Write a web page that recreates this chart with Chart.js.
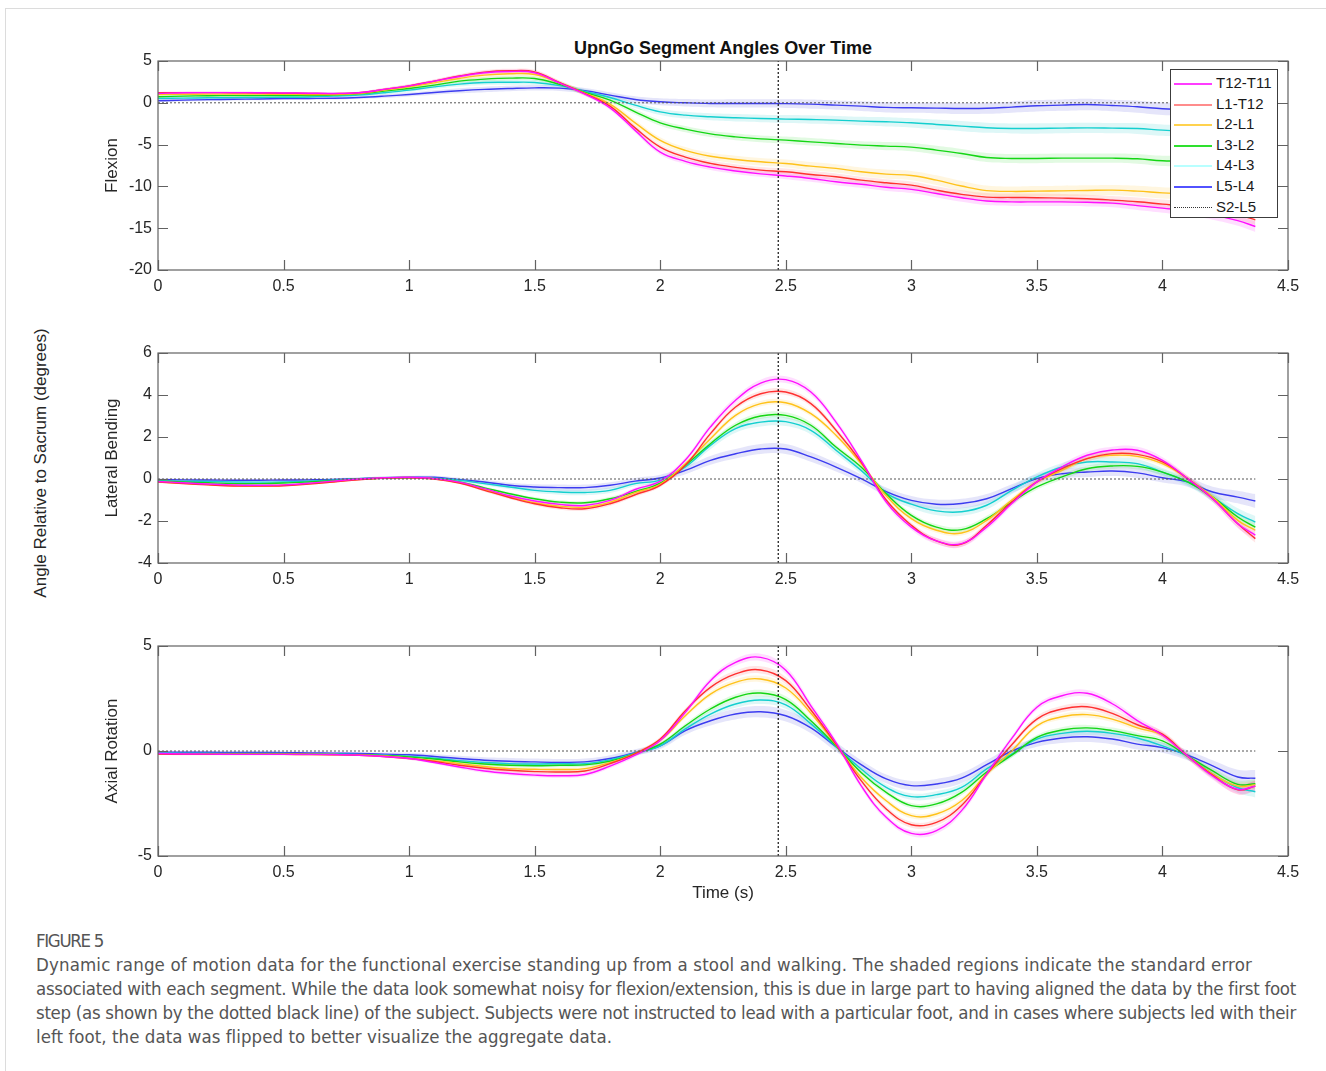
<!DOCTYPE html>
<html>
<head>
<meta charset="utf-8">
<title>UpnGo Segment Angles Over Time</title>
<script src="https://cdn.jsdelivr.net/npm/chart.js@4.4.1/dist/chart.umd.min.js"></script>
<style>
  body { margin: 0; background: #fff; font-family: "Liberation Sans", Arial, sans-serif; }
  #page { position: relative; width: 1326px; height: 1071px; overflow: hidden; background: #fff; }
  .frame { position: absolute; left: 5px; top: 8px; width: 1330px; height: 1070px;
           border-left: 1px solid #dcdcdc; border-top: 1px solid #dcdcdc; }
  canvas { position: absolute; left: 0; }
  #title { position: absolute; left: 423px; width: 600px; top: 37px; line-height: 22px;
           text-align: center; font-weight: bold; font-size: 18px; color: #111; }
  #ylab { position: absolute; left: -159px; top: 453px; width: 400px; height: 20px; line-height: 20px;
          text-align: center; font-size: 17px; color: #262626; transform: rotate(-90deg); }
  #legend { position: absolute; left: 1170px; top: 69px; width: 106px; height: 144px; padding-top: 3px;
            background: #fff; border: 1px solid #3c3c3c; }
  #legend .row { position: relative; height: 20.6px; line-height: 20.6px; font-size: 15px; color: #1a1a1a; }
  #legend .sw { position: absolute; left: 3px; top: 10px; width: 38px; height: 2px; }
  #legend .dot { position: absolute; left: 3px; top: 10px; width: 38px; height: 0; border-top: 1px dotted #333; }
  #legend .txt { position: absolute; left: 45px; top: 0; }
  #caption { position: absolute; left: 36px; top: 929px; color: #555;
             font-family: "Liberation Sans Narrow", "DejaVu Sans", sans-serif; font-stretch: condensed; font-size: 18.5px; }
  #caption .ln { display: block; height: 24px; line-height: 24px; }
  #caption .ln span { display: inline-block; white-space: nowrap; }
</style>
</head>
<body>
<div id="page">
  <div class="frame"></div>
  <div id="title">UpnGo Segment Angles Over Time</div>
  <div id="ylab">Angle Relative to Sacrum (degrees)</div>
  <canvas id="flexion" width="1326" height="255" style="top:45px"></canvas>
  <canvas id="lateral" width="1326" height="256" style="top:337px"></canvas>
  <canvas id="axial" width="1326" height="274" style="top:630px"></canvas>
  <div id="legend"></div>
  <div id="caption">
    <div class="ln"><span data-w="67">FIGURE 5</span></div>
    <div class="ln"><span data-w="1216">Dynamic range of motion data for the functional exercise standing up from a stool and walking. The shaded regions indicate the standard error</span></div>
    <div class="ln"><span data-w="1260">associated with each segment. While the data look somewhat noisy for flexion/extension, this is due in large part to having aligned the data by the first foot</span></div>
    <div class="ln"><span data-w="1260">step (as shown by the dotted black line) of the subject. Subjects were not instructed to lead with a particular foot, and in cases where subjects led with their</span></div>
    <div class="ln"><span data-w="576">left foot, the data was flipped to better visualize the aggregate data.</span></div>
  </div>
</div>
<script>
'use strict';
/* global Chart */

// ---- data ----
const TIME = [0, 0.1, 0.2, 0.3, 0.4, 0.5, 0.6, 0.7, 0.8, 0.9,
  1.0, 1.1, 1.2, 1.3, 1.4, 1.5, 1.6, 1.7, 1.8, 1.9,
  2.0, 2.1, 2.2, 2.3, 2.4, 2.5, 2.6, 2.7, 2.8, 2.9,
  3.0, 3.1, 3.2, 3.3, 3.4, 3.5, 3.6, 3.7, 3.8, 3.9,
  4.0, 4.1, 4.2, 4.3, 4.37];

const SEGMENTS = ['T12-T11', 'L1-T12', 'L2-L1', 'L3-L2', 'L4-L3', 'L5-L4'];
const REFERENCE = 'S2-L5';
const FIRST_STEP = 2.47; // s, dotted vertical line

const X_TICKS = [0, 0.5, 1, 1.5, 2, 2.5, 3, 3.5, 4, 4.5];
const FLEX_TICKS = [-20, -15, -10, -5, 0, 5];
const LAT_TICKS = [-4, -2, 0, 2, 4, 6];
const AX_TICKS = [-5, 0, 5];

// Flexion
const FLEX_T12_T11 = [1.12, 1.2, 1.22, 1.22, 1.2, 1.18, 1.15, 1.12, 1.2, 1.6,
  2.03, 2.59, 3.15, 3.6, 3.75, 3.6, 2.35, 1.05, -0.6, -3.3,
  -5.9, -7.0, -7.7, -8.15, -8.5, -8.75, -9.05, -9.45, -9.75, -10.1,
  -10.35, -10.85, -11.35, -11.75, -11.85, -11.85, -11.85, -11.9, -12.0, -12.3,
  -12.6, -12.9, -13.4, -14.1, -14.8];
const FLEX_L1_T12 = [1.2, 1.22, 1.22, 1.2, 1.18, 1.15, 1.12, 1.1, 1.2, 1.6,
  2.03, 2.6, 3.2, 3.67, 3.83, 3.7, 2.4, 1.1, -0.4, -3.0,
  -5.3, -6.5, -7.25, -7.72, -8.05, -8.25, -8.57, -8.85, -9.25, -9.57,
  -9.85, -10.45, -10.95, -11.28, -11.32, -11.35, -11.4, -11.48, -11.64, -11.84,
  -12.12, -12.4, -12.8, -13.4, -14.0];
const FLEX_L2_L1 = [1.0, 1.02, 1.04, 1.04, 1.04, 1.02, 1.0, 1.0, 1.1, 1.52,
  1.91, 2.39, 2.91, 3.31, 3.47, 3.39, 2.35, 1.15, -0.16, -2.4,
  -4.5, -5.7, -6.4, -6.78, -7.06, -7.26, -7.58, -7.85, -8.25, -8.53,
  -8.7, -9.25, -9.95, -10.5, -10.6, -10.57, -10.53, -10.49, -10.45, -10.57,
  -10.77, -10.9, -11.1, -11.3, -11.5];
const FLEX_L3_L2 = [0.72, 0.8, 0.84, 0.86, 0.86, 0.86, 0.88, 0.92, 1.08, 1.4,
  1.71, 2.11, 2.59, 2.83, 2.95, 2.91, 2.2, 1.25, 0.32, -1.08,
  -2.4, -3.15, -3.72, -4.07, -4.31, -4.47, -4.67, -4.86, -5.06, -5.18,
  -5.3, -5.66, -6.06, -6.54, -6.66, -6.66, -6.62, -6.62, -6.62, -6.7,
  -6.94, -6.95, -7.0, -7.0, -7.05];
const FLEX_L4_L3 = [0.52, 0.56, 0.6, 0.62, 0.64, 0.66, 0.7, 0.8, 0.92, 1.2,
  1.52, 1.91, 2.23, 2.43, 2.45, 2.43, 2.05, 1.35, 0.64, -0.28,
  -1.08, -1.48, -1.67, -1.79, -1.87, -1.95, -2.0, -2.07, -2.19, -2.27,
  -2.39, -2.59, -2.79, -2.99, -3.07, -3.07, -3.03, -3.0, -3.03, -3.07,
  -3.27, -3.4, -3.45, -3.5, -3.6];
const FLEX_L5_L4 = [0.24, 0.32, 0.38, 0.42, 0.46, 0.5, 0.52, 0.55, 0.64, 0.8,
  1.0, 1.24, 1.44, 1.6, 1.71, 1.79, 1.75, 1.45, 0.92, 0.4,
  0.12, 0.0, -0.08, -0.08, -0.08, -0.1, -0.16, -0.28, -0.4, -0.55,
  -0.6, -0.64, -0.68, -0.66, -0.52, -0.36, -0.28, -0.2, -0.32, -0.48,
  -0.72, -0.85, -0.9, -1.0, -1.05];

// Lateral bending
const LAT_T12_T11 = [-0.12, -0.18, -0.24, -0.28, -0.3, -0.28, -0.2, -0.1, 0.0, 0.06,
  0.08, 0.02, -0.15, -0.46, -0.8, -1.05, -1.21, -1.26, -1.02, -0.5,
  -0.1, 0.9, 2.48, 3.75, 4.57, 4.73, 4.14, 2.71, 0.89, -1.1,
  -2.29, -2.95, -3.08, -2.29, -1.17, -0.14, 0.57, 1.13, 1.38, 1.37,
  0.89, 0.02, -0.94, -2.13, -2.67];
const LAT_L1_T12 = [-0.15, -0.22, -0.28, -0.33, -0.34, -0.32, -0.24, -0.14, -0.04, 0.04,
  0.06, 0.0, -0.19, -0.54, -0.88, -1.18, -1.37, -1.42, -1.18, -0.75,
  -0.3, 0.65, 2.16, 3.43, 4.06, 4.14, 3.59, 2.32, 0.81, -1.0,
  -2.2, -2.95, -3.1, -2.2, -1.1, -0.14, 0.49, 0.97, 1.21, 1.17,
  0.81, 0.02, -0.94, -2.13, -2.84];
const LAT_L2_L1 = [-0.13, -0.2, -0.26, -0.31, -0.32, -0.3, -0.22, -0.12, -0.02, 0.05,
  0.07, 0.01, -0.17, -0.5, -0.84, -1.13, -1.29, -1.34, -1.1, -0.65,
  -0.25, 0.72, 1.92, 3.03, 3.59, 3.63, 3.11, 2.08, 0.73, -0.8,
  -1.89, -2.44, -2.57, -1.97, -1.0, -0.14, 0.41, 0.97, 1.13, 1.08,
  0.73, 0.02, -0.86, -1.97, -2.44];
const LAT_L3_L2 = [-0.1, -0.14, -0.18, -0.22, -0.22, -0.19, -0.14, -0.08, 0.0, 0.05,
  0.06, 0.02, -0.14, -0.42, -0.7, -0.94, -1.1, -1.13, -0.94, -0.6,
  -0.2, 0.65, 1.68, 2.56, 3.0, 3.03, 2.56, 1.52, 0.57, -0.7,
  -1.73, -2.29, -2.41, -1.89, -1.1, -0.38, 0.1, 0.49, 0.62, 0.6,
  0.33, -0.14, -0.86, -1.81, -2.29];
const LAT_L4_L3 = [-0.08, -0.1, -0.12, -0.14, -0.15, -0.14, -0.1, -0.05, 0.02, 0.06,
  0.07, 0.04, -0.06, -0.22, -0.38, -0.54, -0.62, -0.64, -0.54, -0.22,
  -0.05, 0.57, 1.6, 2.4, 2.71, 2.73, 2.32, 1.37, 0.41, -0.67,
  -1.2, -1.52, -1.56, -1.25, -0.54, 0.1, 0.57, 0.81, 0.81, 0.73,
  0.33, -0.14, -0.86, -1.65, -2.05];
const LAT_L5_L4 = [-0.03, -0.04, -0.05, -0.06, -0.06, -0.05, -0.04, -0.02, 0.02, 0.05,
  0.08, 0.08, -0.03, -0.14, -0.3, -0.38, -0.41, -0.41, -0.3, -0.1,
  0.05, 0.41, 0.89, 1.2, 1.43, 1.43, 1.05, 0.57, 0.02, -0.6,
  -1.02, -1.2, -1.17, -0.94, -0.46, 0.02, 0.25, 0.33, 0.38, 0.29,
  0.06, -0.14, -0.62, -0.86, -1.05];

// Axial rotation
const AX_T12_T11 = [-0.12, -0.14, -0.15, -0.16, -0.16, -0.16, -0.16, -0.17, -0.2, -0.26,
  -0.36, -0.55, -0.76, -0.95, -1.07, -1.15, -1.18, -1.12, -0.72, -0.2,
  0.5, 1.84, 3.35, 4.22, 4.46, 3.85, 2.15, 0.4, -1.65, -3.16,
  -3.92, -3.79, -2.84, -1.1, 0.6, 2.08, 2.63, 2.75, 2.25, 1.45,
  0.75, -0.24, -1.19, -1.83, -1.67];
const AX_L1_T12 = [-0.15, -0.16, -0.16, -0.16, -0.16, -0.16, -0.17, -0.18, -0.2, -0.26,
  -0.36, -0.5, -0.68, -0.82, -0.92, -0.98, -1.0, -0.95, -0.6, -0.12,
  0.57, 1.92, 3.03, 3.67, 3.86, 3.35, 1.95, 0.32, -1.41, -2.76,
  -3.51, -3.4, -2.6, -1.1, 0.3, 1.52, 2.0, 2.11, 1.79, 1.25,
  0.8, -0.24, -1.15, -1.85, -1.67];
const AX_L2_L1 = [-0.14, -0.15, -0.15, -0.15, -0.15, -0.15, -0.16, -0.17, -0.19, -0.24,
  -0.34, -0.46, -0.6, -0.74, -0.84, -0.87, -0.88, -0.84, -0.55, -0.12,
  0.5, 1.68, 2.71, 3.27, 3.43, 3.0, 1.8, 0.3, -1.25, -2.37,
  -3.08, -3.0, -2.37, -1.1, 0.0, 1.2, 1.63, 1.73, 1.52, 1.1,
  0.75, -0.24, -1.1, -1.67, -1.6];
const AX_L3_L2 = [-0.13, -0.14, -0.14, -0.14, -0.14, -0.14, -0.15, -0.16, -0.18, -0.22,
  -0.28, -0.38, -0.52, -0.62, -0.68, -0.7, -0.68, -0.66, -0.48, -0.12,
  0.33, 1.2, 2.0, 2.56, 2.76, 2.45, 1.44, 0.25, -1.02, -1.97,
  -2.6, -2.52, -1.97, -1.0, -0.2, 0.65, 1.0, 1.1, 0.97, 0.73,
  0.48, -0.24, -0.95, -1.59, -1.56];
const AX_L4_L3 = [-0.1, -0.11, -0.11, -0.12, -0.12, -0.12, -0.13, -0.14, -0.16, -0.2,
  -0.26, -0.34, -0.46, -0.55, -0.6, -0.62, -0.6, -0.6, -0.42, -0.1,
  0.25, 1.05, 1.76, 2.24, 2.43, 2.2, 1.29, 0.22, -0.86, -1.73,
  -2.17, -2.08, -1.73, -0.85, -0.15, 0.57, 0.84, 0.94, 0.84, 0.62,
  0.24, -0.24, -1.1, -1.75, -1.94];
const AX_L5_L4 = [-0.05, -0.06, -0.06, -0.07, -0.07, -0.08, -0.09, -0.1, -0.12, -0.15,
  -0.18, -0.26, -0.36, -0.44, -0.49, -0.52, -0.54, -0.52, -0.36, -0.08,
  0.25, 0.97, 1.44, 1.76, 1.87, 1.68, 1.1, 0.2, -0.65, -1.33,
  -1.65, -1.57, -1.29, -0.65, 0.0, 0.41, 0.62, 0.68, 0.57, 0.33,
  0.16, -0.2, -0.71, -1.24, -1.3];

// standard error half-widths (deg) over time, and per-segment gain
const FLEX_SE = [0.15, 0.15, 0.15, 0.15, 0.15, 0.15, 0.15, 0.15, 0.15, 0.2,
  0.22, 0.25, 0.28, 0.3, 0.3, 0.3, 0.3, 0.3, 0.32, 0.35,
  0.38, 0.4, 0.42, 0.45, 0.45, 0.48, 0.5, 0.5, 0.52, 0.55,
  0.55, 0.58, 0.6, 0.6, 0.6, 0.62, 0.62, 0.62, 0.62, 0.65,
  0.68, 0.7, 0.72, 0.75, 0.8];
const LAT_SE = [0.04, 0.04, 0.04, 0.04, 0.04, 0.04, 0.04, 0.04, 0.04, 0.05,
  0.05, 0.05, 0.06, 0.07, 0.08, 0.09, 0.1, 0.1, 0.1, 0.1,
  0.1, 0.12, 0.14, 0.15, 0.16, 0.16, 0.15, 0.14, 0.13, 0.13,
  0.14, 0.15, 0.15, 0.15, 0.14, 0.14, 0.15, 0.16, 0.16, 0.16,
  0.15, 0.15, 0.17, 0.2, 0.22];
const AX_SE = [0.04, 0.04, 0.04, 0.04, 0.04, 0.04, 0.04, 0.04, 0.04, 0.05,
  0.06, 0.07, 0.08, 0.09, 0.1, 0.1, 0.1, 0.1, 0.1, 0.1,
  0.1, 0.12, 0.14, 0.16, 0.17, 0.17, 0.16, 0.14, 0.13, 0.13,
  0.14, 0.15, 0.15, 0.14, 0.13, 0.13, 0.15, 0.16, 0.16, 0.16,
  0.15, 0.15, 0.17, 0.22, 0.25];
const FLEX_SE_GAIN = [0.8, 0.8, 1.0, 0.9, 1.0, 1.1];
const LAT_SE_GAIN = [1.0, 0.9, 0.8, 0.9, 1.3, 1.5];
const AX_SE_GAIN = [1.0, 1.0, 0.9, 0.9, 1.1, 1.6];

// ---- styles ----
const LINE_COLORS = ['#ff10ff', '#ff3030', '#ffc21a', '#14d614', '#14cfcf', '#3c3cf0'];
const BAND_COLORS = ['rgba(255,0,255,0.13)', 'rgba(255,60,60,0.13)', 'rgba(255,200,60,0.16)',
  'rgba(20,210,20,0.12)', 'rgba(20,200,200,0.14)', 'rgba(70,70,220,0.14)'];
const LEGEND_COLORS = ['#ff3cff', '#ff8c8c', '#ffd24d', '#2ee02e', '#b8ffff', '#5252ff'];
const AXIS_GRAY = '#626262';

Chart.defaults.font.family = '"Liberation Sans", Arial, sans-serif';
Chart.defaults.font.size = 16;
Chart.defaults.color = '#262626';

// MATLAB-ish box with inward ticks on all four sides
const boxTicks = {
  id: 'boxTicks',
  afterDatasetsDraw(chart) {
    const { ctx, chartArea: a, scales: { x, y } } = chart;
    const len = 10;
    ctx.save();
    ctx.strokeStyle = AXIS_GRAY;
    ctx.lineWidth = 1.2;
    ctx.strokeRect(a.left, a.top, a.right - a.left, a.bottom - a.top);
    ctx.beginPath();
    x.ticks.forEach(t => {
      const px = Math.round(x.getPixelForValue(t.value)) + 0.5;
      ctx.moveTo(px, a.bottom); ctx.lineTo(px, a.bottom - len);
      ctx.moveTo(px, a.top); ctx.lineTo(px, a.top + len);
    });
    y.ticks.forEach(t => {
      const py = Math.round(y.getPixelForValue(t.value)) + 0.5;
      ctx.moveTo(a.left, py); ctx.lineTo(a.left + len, py);
      ctx.moveTo(a.right, py); ctx.lineTo(a.right - len, py);
    });
    ctx.stroke();
    ctx.restore();
  }
};

function buildPanel(id, series, se, gain, yTicks, yTitle, xHeight, xTitle) {
  const yMin = yTicks[0], yMax = yTicks[yTicks.length - 1];
  const datasets = [];

  // shaded standard error bands (upper fills down to lower)
  series.forEach((vals, i) => {
    datasets.push({
      data: TIME.map((t, k) => ({ x: t, y: vals[k] + se[k] * gain[i] })),
      borderColor: 'transparent', borderWidth: 0, pointRadius: 0,
      backgroundColor: BAND_COLORS[i], fill: '+1', tension: 0.4, order: 10,
    });
    datasets.push({
      data: TIME.map((t, k) => ({ x: t, y: vals[k] - se[k] * gain[i] })),
      borderColor: 'transparent', borderWidth: 0, pointRadius: 0,
      fill: false, tension: 0.4, order: 10,
    });
  });

  // mean curves
  series.forEach((vals, i) => {
    datasets.push({
      label: SEGMENTS[i],
      data: TIME.map((t, k) => ({ x: t, y: vals[k] })),
      borderColor: LINE_COLORS[i], borderWidth: 1.4, pointRadius: 0,
      fill: false, tension: 0.4, order: 2,
    });
  });

  // sacrum reference (zero) and first foot step
  datasets.push({
    label: REFERENCE,
    data: [{ x: TIME[0], y: 0 }, { x: TIME[TIME.length - 1], y: 0 }],
    borderColor: '#555', borderWidth: 1, borderDash: [2, 2], pointRadius: 0, order: 1,
  });
  datasets.push({
    data: [{ x: FIRST_STEP, y: yMin }, { x: FIRST_STEP, y: yMax }],
    borderColor: '#111', borderWidth: 1.2, borderDash: [2, 2], pointRadius: 0, order: 0,
  });

  return new Chart(document.getElementById(id), {
    type: 'line',
    data: { datasets },
    plugins: [boxTicks],
    options: {
      responsive: false,
      animation: false,
      events: [],
      layout: { padding: { left: 102, right: 38, top: 16, bottom: 0 } },
      plugins: { legend: { display: false }, tooltip: { enabled: false } },
      scales: {
        x: {
          type: 'linear', min: X_TICKS[0], max: X_TICKS[X_TICKS.length - 1],
          afterBuildTicks: s => { s.ticks = X_TICKS.map(v => ({ value: v })); },
          afterFit: s => { s.height = xHeight; },
          grid: { display: false, drawTicks: false }, border: { display: false },
          ticks: { padding: 7, maxRotation: 0, autoSkip: false, color: '#262626', callback: v => String(v) },
          title: { display: !!xTitle, text: xTitle || '', font: { size: 17 }, padding: { top: 0, bottom: 0 }, color: '#262626' },
        },
        y: {
          min: yMin, max: yMax,
          afterBuildTicks: s => { s.ticks = yTicks.map(v => ({ value: v })); },
          afterFit: s => { s.width = 56; },
          grid: { display: false, drawTicks: false }, border: { display: false },
          ticks: { padding: 6, color: '#262626', callback: v => String(v) },
          title: { display: true, text: yTitle, font: { size: 17 }, padding: { top: 0, bottom: 0 }, color: '#262626' },
        },
      },
    },
  });
}

buildPanel('flexion',
  [FLEX_T12_T11, FLEX_L1_T12, FLEX_L2_L1, FLEX_L3_L2, FLEX_L4_L3, FLEX_L5_L4],
  FLEX_SE, FLEX_SE_GAIN, FLEX_TICKS, 'Flexion', 30);
buildPanel('lateral',
  [LAT_T12_T11, LAT_L1_T12, LAT_L2_L1, LAT_L3_L2, LAT_L4_L3, LAT_L5_L4],
  LAT_SE, LAT_SE_GAIN, LAT_TICKS, 'Lateral Bending', 30);
buildPanel('axial',
  [AX_T12_T11, AX_L1_T12, AX_L2_L1, AX_L3_L2, AX_L4_L3, AX_L5_L4],
  AX_SE, AX_SE_GAIN, AX_TICKS, 'Axial Rotation', 48, 'Time (s)');

// legend box (sits inside the flexion axes, top right)
const legend = document.getElementById('legend');
legend.innerHTML = SEGMENTS.map((name, i) =>
  `<div class="row"><span class="sw" style="background:${LEGEND_COLORS[i]}"></span><span class="txt">${name}</span></div>`
).join('') +
  `<div class="row"><span class="dot"></span><span class="txt">${REFERENCE}</span></div>`;

// stretch caption lines to the measured widths of the original layout
document.querySelectorAll('#caption .ln span').forEach(el => {
  const target = +el.dataset.w;
  el.style.letterSpacing = '0px';
  const w = el.getBoundingClientRect().width;
  el.style.letterSpacing = ((target - w) / el.textContent.length) + 'px';
});
</script>
</body>
</html>
